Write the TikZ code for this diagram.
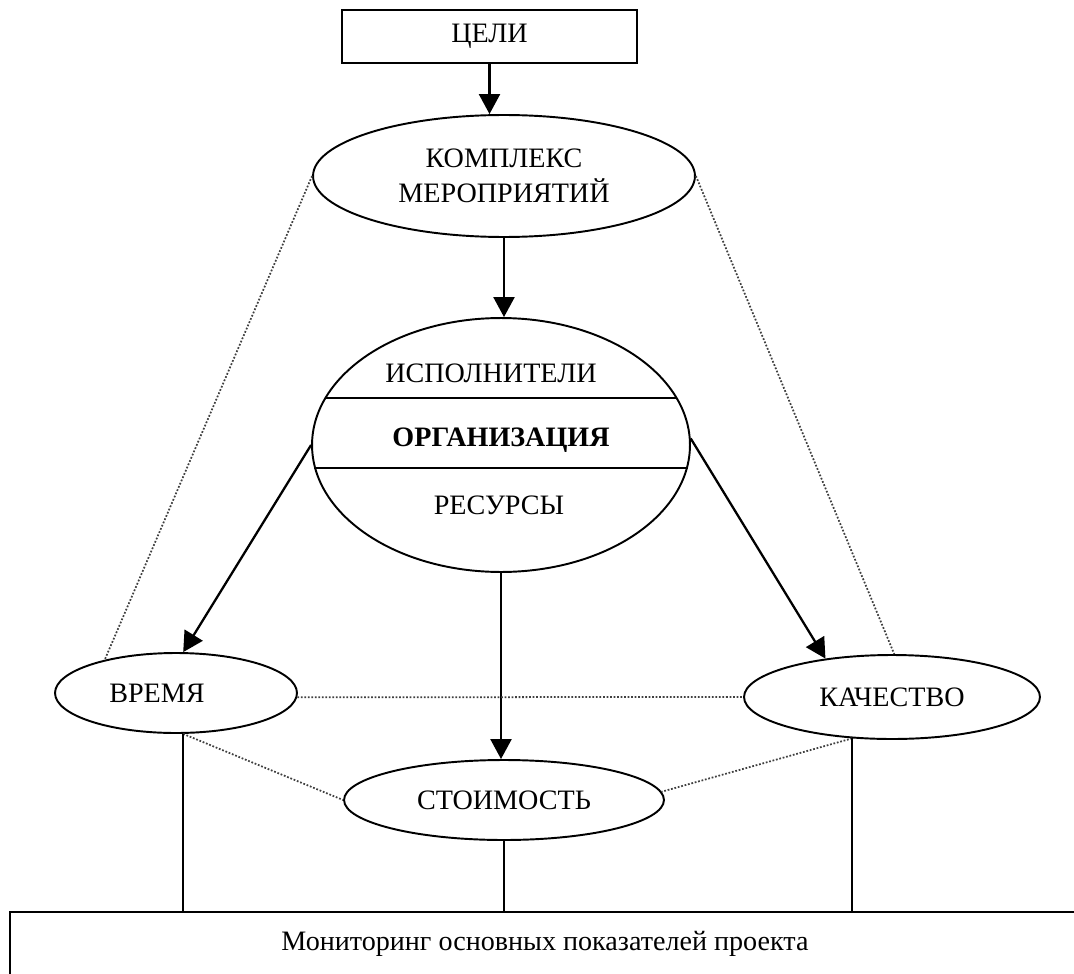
\documentclass[tikz,border=0pt]{standalone}
\usepackage{fontspec}
\setmainfont{Liberation Serif}
\usetikzlibrary{shapes.geometric,arrows.meta}
\begin{document}
\begin{tikzpicture}[x=0.02cm,y=-0.02cm,>={Triangle[length=0.4cm,width=0.42cm]},
  font=\fontsize{16}{20}\selectfont,
  box/.style={draw,line width=1.1pt,inner sep=0pt},
  oval/.style={ellipse,draw,line width=1.1pt,inner sep=0pt,align=center},
  flow/.style={->,line width=1.3pt},
  link/.style={densely dotted,line width=1pt,black!75},
  tie/.style={line width=1.1pt}]
\useasboundingbox (0,0) rectangle (1074,973);
\node[box,minimum width=5.9cm,minimum height=1.06cm] (goals) at (489.5,36.5) {ЦЕЛИ};
\node[oval,minimum width=7.64cm,minimum height=2.44cm] (plan) at (504,176) {КОМПЛЕКС\\МЕРОПРИЯТИЙ};
\node[oval,minimum width=7.56cm,minimum height=5.08cm] (org) at (501,445) {};
\node (performers) at (491,373) {ИСПОЛНИТЕЛИ};
\node (orgname) at (501,440) {\bfseries ОРГАНИЗАЦИЯ};
\node (resources) at (499,505) {РЕСУРСЫ};
\node[oval,minimum width=4.84cm,minimum height=1.6cm] (time) at (176,693) {};
\node (timetext) at ([xshift=-0.38cm]time.center) {ВРЕМЯ};
\node[oval,minimum width=5.92cm,minimum height=1.68cm] (quality) at (892,697) {КАЧЕСТВО};
\node[oval,minimum width=6.4cm,minimum height=1.6cm] (cost) at (504,800) {СТОИМОСТЬ};
\node[box,minimum width=21.8cm,minimum height=1.76cm] (monbox) at (555,956) {};
\node (monitor) at (545,944) {Мониторинг основных показателей проекта};

\draw[tie] (org.165) -- (org.15);
\draw[tie] (org.187) -- (org.353);

\draw[flow] (goals.south) -- (goals.south |- plan.north);
\draw[flow] (plan.south) -- (plan.south |- org.north);
\draw[flow] (org.west) -- (time.80);
\draw[flow] (org.2) -- (quality.150);
\draw[flow] (org.south) -- (org.south |- cost.north);

\draw[link] (plan.west) -- (time.155);
\draw[link] (plan.east) -- (quality.87);
\draw[link] (time.358) -- (quality.west);
\draw[link] (time.280) -- (cost.west);
\draw[link] (quality.226) -- (cost.3);

\draw[tie] (time.280) -- (time.280 |- monbox.north);
\draw[tie] (cost.south) -- (cost.south |- monbox.north);
\draw[tie] (quality.226) -- (quality.226 |- monbox.north);
\end{tikzpicture}
\end{document}
